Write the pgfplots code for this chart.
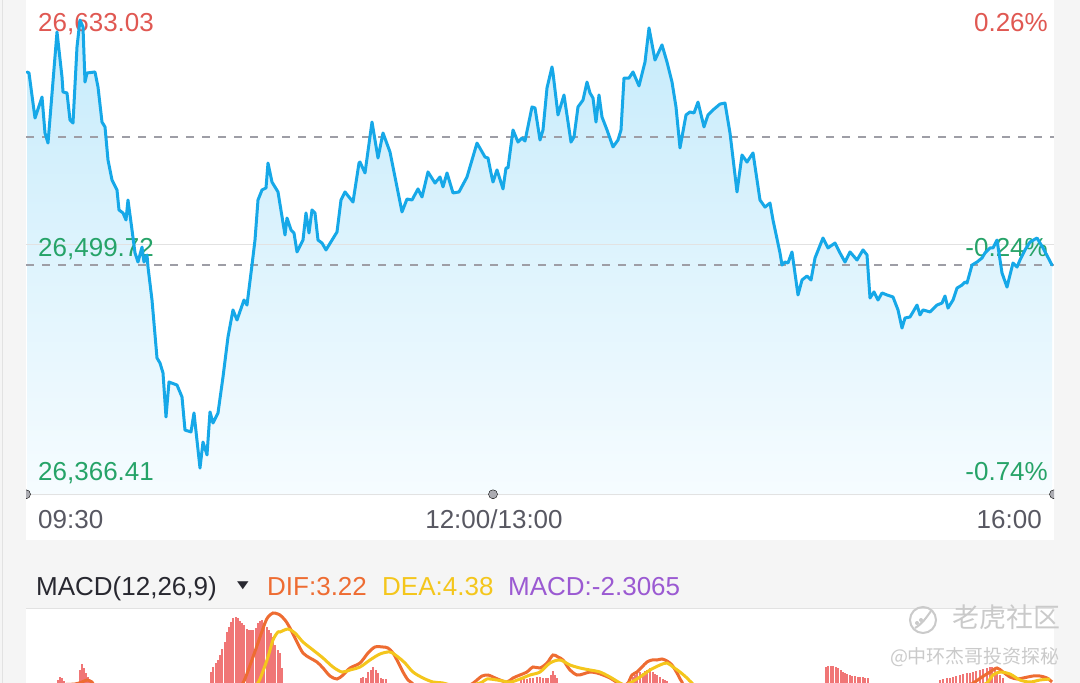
\documentclass[border=0pt]{standalone}
\usepackage{pgfplots}
\pgfplotsset{compat=1.18}
\usepackage{pgfplotstable}
\usepackage{fontspec}
\setmainfont{Liberation Sans}
\newfontfamily\cjk{Noto Sans CJK SC}
\newfontfamily\dejavu{DejaVu Sans}
\definecolor{bg}{RGB}{245,245,245}
\definecolor{linec}{RGB}{22,168,232}
\definecolor{filltop}{RGB}{198,235,251}
\definecolor{fillbot}{RGB}{246,252,255}
\definecolor{upred}{RGB}{224,88,82}
\definecolor{dngreen}{RGB}{38,163,104}
\definecolor{dashc}{RGB}{158,158,166}
\definecolor{axc}{RGB}{88,88,98}
\definecolor{difc}{RGB}{238,108,50}
\definecolor{deac}{RGB}{244,198,28}
\definecolor{macdc}{RGB}{155,90,210}
\definecolor{barc}{RGB}{240,118,118}
\definecolor{wm}{RGB}{202,202,202}
\definecolor{gridc}{RGB}{226,226,226}
\definecolor{dotc}{RGB}{172,172,178}
\definecolor{hdr}{RGB}{40,40,48}
\newcommand{\fs}{\fontsize{26pt}{30pt}\selectfont}

\pgfplotstableread{
t p
1 26602.1
3 26601.5
9 26574.7
16 26587.2
19 26565.8
22 26559.8
31 26625.9
36 26599.1
37 26590.2
41 26589.6
44 26573.5
47 26571.7
51 26617.0
54 26633.03
57 26628.9
59 26596.1
61 26601.5
69 26602.1
72 26593.2
76 26572.3
79 26569.4
82 26549.7
86 26537.8
91 26531.9
93 26520.0
97 26518.2
100 26514.0
102 26525.9
106 26508.1
109 26494.4
112 26489.0
116 26497.9
118 26489.0
121 26493.2
122 26486.0
126 26466.4
131 26431.9
134 26428.9
137 26423.0
140 26396.8
143 26417.6
151 26415.8
156 26408.7
159 26389.0
165 26387.9
168 26399.2
174 26366.41
177 26381.9
181 26374.2
184 26399.8
187 26393.2
192 26399.2
197 26420.6
202 26444.4
207 26460.5
211 26454.5
218 26466.4
221 26463.4
226 26487.2
229 26502.1
232 26525.9
236 26531.9
240 26533.1
242 26547.9
246 26536.6
252 26530.7
259 26505.1
261 26515.2
265 26508.1
268 26506.3
271 26495.0
277 26502.1
280 26518.2
283 26506.3
286 26520.0
289 26518.2
292 26502.1
296 26500.3
300 26496.2
311 26506.9
315 26525.9
319 26530.7
327 26524.7
333 26547.9
334 26548.5
339 26542.0
346 26572.3
352 26550.9
357 26565.8
364 26554.5
376 26518.8
381 26526.5
386 26525.9
392 26532.5
396 26527.7
402 26542.6
409 26536.0
414 26539.6
417 26533.7
421 26542.0
427 26530.1
433 26530.7
441 26539.6
451 26559.8
459 26551.5
462 26550.9
465 26542.0
467 26536.6
471 26543.8
477 26532.5
480 26545.0
482 26545.0
487 26567.6
492 26560.4
496 26562.8
499 26561.0
506 26581.3
509 26580.7
514 26561.6
517 26567.6
521 26592.6
526 26605.1
527 26601.5
532 26576.5
538 26588.4
545 26560.4
548 26563.4
552 26581.3
557 26585.4
561 26596.1
564 26589.6
567 26586.6
570 26572.3
573 26588.4
576 26575.3
581 26567.6
587 26557.5
592 26561.6
595 26567.6
598 26598.5
603 26598.5
607 26602.1
613 26593.8
619 26608.0
623 26628.3
629 26609.2
636 26618.2
641 26608.0
646 26596.1
650 26581.3
654 26556.9
660 26576.5
664 26578.3
668 26577.7
672 26584.2
678 26569.4
682 26576.5
687 26579.5
694 26583.0
699 26583.6
704 26565.8
711 26530.7
716 26552.7
721 26548.5
727 26553.9
734 26525.9
739 26521.7
744 26524.1
747 26514.0
754 26494.4
756 26487.2
759 26489.0
762 26488.4
766 26495.0
772 26469.4
776 26478.3
781 26480.7
785 26478.3
789 26491.4
797 26503.3
802 26497.4
809 26500.3
814 26494.4
819 26489.0
824 26495.0
831 26490.2
837 26496.2
841 26493.2
844 26467.6
848 26471.2
852 26466.4
856 26470.6
861 26469.4
867 26468.2
872 26460.5
876 26449.7
879 26455.7
884 26456.3
887 26459.3
891 26463.4
894 26457.5
897 26460.5
904 26459.3
911 26463.4
916 26464.6
919 26468.8
922 26461.6
927 26466.4
931 26473.5
936 26475.3
939 26477.1
941 26476.5
946 26487.2
951 26489.0
956 26491.4
959 26494.4
964 26497.4
967 26497.4
971 26502.1
976 26482.5
981 26474.1
984 26481.3
987 26488.4
991 26486.0
994 26490.2
999 26496.2
1004 26500.9
1011 26503.3
1017 26497.4
1026 26487.2
}\price

\pgfplotstableread{
t v
32 2.0
34 2.3
36 2.2
38 1.9
54 3.0
56 3.6
58 3.2
60 2.7
62 2.3
64 2.0
185 2.8
187 3.3
190 3.7
192 4.0
194 4.5
196 5.1
199 5.8
201 6.8
203 7.3
205 7.8
207 8.2
210 8.3
212 8.2
214 7.9
216 7.7
218 7.5
221 7.1
223 7.0
225 7.0
227 7.0
230 7.2
232 7.7
234 7.9
236 8.0
238 7.7
241 7.3
243 7.0
245 6.7
247 6.3
249 5.5
252 5.0
254 4.7
256 3.2
335 2.2
337 2.3
340 2.2
342 2.8
345 3.0
347 3.3
350 3.0
352 2.7
355 2.2
357 2.1
360 2.1
495 2.0
498 2.1
501 2.1
504 2.2
507 2.2
511 2.3
514 2.3
517 2.2
520 2.2
522 2.2
525 2.5
527 2.9
529 2.5
531 2.2
607 2.3
609 2.5
611 2.7
614 2.8
617 2.7
619 2.9
621 3.0
624 3.2
627 2.8
629 2.6
631 2.5
634 2.3
637 2.1
639 2.0
641 1.9
800 3.3
802 3.4
805 3.4
807 3.4
810 3.3
812 3.2
815 3.0
817 2.8
819 2.7
821 2.6
824 2.5
826 2.4
829 2.4
832 2.3
834 2.3
837 2.3
839 2.2
842 2.2
914 2.0
917 2.1
921 2.2
924 2.2
927 2.3
930 2.4
934 2.5
937 2.6
941 2.7
944 2.7
947 2.8
950 2.9
954 3.0
957 3.1
961 3.2
964 3.3
966 3.3
969 3.1
971 2.8
974 2.5
977 2.2
}\bars

\pgfplotstableread{
t v
0 1.0
34 1.5
49 1.6
56 1.8
61 2.0
66 1.8
74 1.2
124 0.5
174 0.5
209 1.2
217 1.7
227 4.3
234 6.3
239 7.7
242 8.3
247 8.7
252 8.6
254 8.5
259 8.0
264 7.2
271 5.8
277 4.7
284 4.2
291 3.8
297 3.2
304 2.4
311 2.1
317 2.5
324 3.2
334 3.7
342 4.7
349 5.3
357 5.3
362 5.2
367 4.7
372 3.8
377 2.8
382 2.0
386 1.7
394 1.0
424 0.6
444 1.5
451 2.0
456 2.4
462 2.5
467 2.3
474 2.0
481 1.8
487 2.2
494 2.5
501 2.8
507 3.3
514 3.2
521 3.7
527 4.5
532 4.3
537 4.0
544 3.0
551 2.5
557 2.6
564 2.8
571 2.7
577 2.5
584 2.2
592 1.7
598 1.5
602 1.7
606 2.5
611 2.8
616 3.3
621 3.8
626 4.0
631 4.0
636 4.1
641 3.9
646 3.5
651 2.7
656 1.8
664 1.0
724 0.5
774 0.8
874 0.8
939 1.5
947 1.7
956 2.3
964 2.8
971 3.2
977 2.8
984 2.3
991 2.1
997 2.2
1007 2.4
1014 2.4
1021 2.2
1026 1.8
}\dif

\pgfplotstableread{
t v
0 0.8
64 1.2
124 0.8
214 0.9
224 1.3
232 1.7
241 4.0
247 6.0
252 6.8
254 6.8
262 7.1
269 6.7
277 5.8
287 5.0
297 4.2
307 3.3
316 2.8
324 3.0
334 3.3
344 4.0
354 4.6
364 4.8
372 4.3
379 3.7
387 2.8
397 2.2
407 1.8
417 1.7
434 1.3
454 1.7
461 2.1
471 2.0
484 1.8
494 2.1
504 2.5
514 2.8
524 3.7
534 4.0
544 3.5
554 3.2
564 3.0
574 2.8
584 2.3
594 1.7
599 1.5
604 1.7
614 2.3
624 3.0
634 3.5
641 3.7
647 3.3
654 2.8
661 2.2
666 1.7
674 1.3
774 0.8
924 1.0
954 1.5
961 1.7
967 2.5
974 2.8
984 2.6
994 2.0
1004 1.8
1014 2.0
1024 2.1
}\dea

\pgfplotsset{panel/.style={at={(26pt,-495pt)}, anchor=south west, scale only axis,
  width=1028pt, height=495pt, xmin=0, xmax=1028, ymin=26350.36, ymax=26644.93,
  axis line style={draw=none}, ticks=none}}

\begin{document}
\begin{tikzpicture}
\useasboundingbox (0pt,0pt) rectangle (1080pt,-683pt);
\clip (0pt,0pt) rectangle (1080pt,-683pt);
\fill[bg] (0pt,0pt) rectangle (1080pt,-683pt);
\draw[gridc, line width=1pt] (2.5pt,0pt) -- (2.5pt,-683pt);
\fill[white] (26pt,0pt) rectangle (1054pt,-540pt);
\fill[white] (26pt,-609pt) rectangle (1054pt,-683pt);
\draw[gridc, line width=1pt] (26pt,-608.5pt) -- (1054pt,-608.5pt);

% price panel: fill and reference lines
\begin{scope}
\clip (26pt,0pt) rectangle (1054pt,-540pt);
\begin{axis}[panel]
\addplot[draw=none, top color=filltop, bottom color=fillbot] table[x=t,y=p]{\price}
  -- (axis cs:1026,26350.36) -- (axis cs:1,26350.36) -- cycle;
\addplot[gridc, line width=1pt] coordinates {(0,26499.72) (1028,26499.72)};
\addplot[dashc, line width=2.4pt, dash pattern=on 7.5pt off 8.5pt] coordinates {(0,26563.4) (1028,26563.4)};
\addplot[dashc, line width=2.4pt, dash pattern=on 7.5pt off 8.5pt] coordinates {(0,26487.2) (1028,26487.2)};
\addplot[gridc, line width=1.5pt] coordinates {(0,26350.8) (1028,26350.8)};
\addplot[only marks, mark=*, mark size=4.5pt, mark options={draw=none, fill=dotc}] coordinates {(0,26350.8) (467,26350.8) (1028,26350.8)};
\end{axis}
\end{scope}

% value labels
\node[anchor=base west, inner sep=0pt, text=upred, font=\fs] at (38pt,-31.5pt) {26,633.03};
\node[anchor=base east, inner sep=0pt, text=upred, font=\fs] at (1048pt,-31.5pt) {0.26\%};
\node[anchor=base west, inner sep=0pt, text=dngreen, font=\fs] at (38pt,-256pt) {26,499.72};
\node[anchor=base east, inner sep=0pt, text=dngreen, font=\fs] at (1048pt,-256pt) {-0.24\%};
\node[anchor=base west, inner sep=0pt, text=dngreen, font=\fs] at (38pt,-480.5pt) {26,366.41};
\node[anchor=base east, inner sep=0pt, text=dngreen, font=\fs] at (1048pt,-480.5pt) {-0.74\%};

% price line
\begin{scope}
\clip (26pt,0pt) rectangle (1054pt,-540pt);
\begin{axis}[panel]
\addplot[linec, line width=3pt, line join=round, line cap=round] table[x=t,y=p]{\price};
\end{axis}
\end{scope}

% time labels
\node[anchor=base west, inner sep=0pt, text=axc, font=\fs] at (38pt,-528pt) {09:30};
\node[anchor=base, inner sep=0pt, text=axc, font=\fs] at (494pt,-528pt) {12:00/13:00};
\node[anchor=base east, inner sep=0pt, text=axc, font=\fs] at (1042pt,-528pt) {16:00};

% MACD header
\node[anchor=base west, inner sep=0pt, text=hdr, font=\fs] at (36pt,-595pt) {MACD(12,26,9)};
\node[anchor=center, inner sep=0pt, text=hdr] at (243pt,-586pt) {\scalebox{1}[0.7]{\dejavu\fontsize{15pt}{18pt}\selectfont ▼}};
\node[anchor=base west, inner sep=0pt, text=difc, font=\fs] at (267pt,-595pt) {DIF:3.22};
\node[anchor=base west, inner sep=0pt, text=deac, font=\fs] at (382pt,-595pt) {DEA:4.38};
\node[anchor=base west, inner sep=0pt, text=macdc, font=\fs] at (508pt,-595pt) {MACD:-2.3065};

% MACD panel
\begin{axis}[at={(26pt,-700pt)}, anchor=south west, scale only axis,
  width=1028pt, height=90pt, xmin=0, xmax=1028, ymin=0, ymax=9,
  axis line style={draw=none}, ticks=none]
\addplot[ycomb, barc, line width=1.6pt] table[x=t,y=v]{\bars};
\addplot[difc, line width=3pt, smooth, tension=0.5] table[x=t,y=v]{\dif};
\addplot[deac, line width=3pt, smooth, tension=0.5] table[x=t,y=v]{\dea};
\end{axis}

% watermark
\draw[wm, line width=2pt] (923pt,-620pt) circle (13pt);
\draw[wm, line width=2pt] (915pt,-628pt) .. controls (922pt,-624pt) and (926pt,-618pt) .. (931pt,-611pt);
\fill[wm] (917pt,-623pt) circle (2pt) (921pt,-620pt) circle (2pt);
\node[anchor=center, inner sep=0pt, text=wm] at (1006pt,-617pt) {\cjk\fontsize{27pt}{30pt}\selectfont 老虎社区};
\node[anchor=center, inner sep=0pt, text=wm] at (975pt,-657pt) {\cjk\fontsize{19pt}{22pt}\selectfont @中环杰哥投资探秘};
\end{tikzpicture}
\end{document}
